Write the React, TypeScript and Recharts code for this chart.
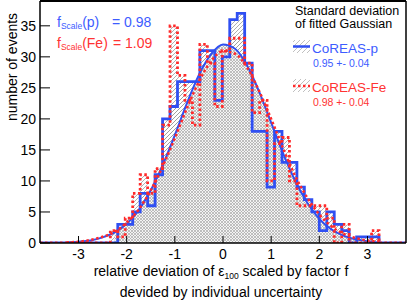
import { ComposedChart, Area, Line, XAxis, YAxis } from 'recharts';

// histogram bin edges (left edges, last one closes the final bin)
const binEdges = [
  -2.34, -2.185, -2.03, -1.875, -1.72, -1.565, -1.41, -1.255, -1.1, -0.945,
  -0.79, -0.635, -0.48, -0.325, -0.17, -0.015, 0.14, 0.295, 0.45, 0.605,
  0.76, 0.915, 1.07, 1.225, 1.38, 1.535, 1.69, 1.845, 2.0, 2.155,
  2.31, 2.465, 2.62, 2.775, 2.93, 3.085, 3.24,
];

const countsP = [
  0, 3, 3, 5, 8, 6, 11, 20, 22, 26,
  26, 26, 31, 31, 23, 30, 36, 37, 29, 18,
  18, 9, 18, 13, 13, 9, 7, 5, 2, 5,
  3, 2, 0, 1, 1, 1,
];

const countsFe = [
  2, 1, 4, 8, 11, 8, 12, 19, 35, 27,
  23, 19, 32, 29, 22, 31, 33, 33, 29, 21,
  23, 10, 16, 17, 10, 6, 6, 6, 6, 4,
  0, 3, 0, 0, 0, 2,
];

// fitted gaussians
const fitX = [
  -3.25, -3, -2.75, -2.5, -2.25, -2, -1.75, -1.5, -1.25, -1, -0.75, -0.5, -0.25,
  0, 0.25, 0.5, 0.75, 1, 1.25, 1.5, 1.75, 2, 2.25, 2.5, 2.75, 3, 3.25,
];
const fitP = [
  0.1, 0.2, 0.4, 0.9, 1.7, 3.1, 5.3, 8.5, 12.6, 17.4, 22.5, 27.1, 30.4,
  32.0, 31.3, 28.6, 24.4, 19.4, 14.4, 10.0, 6.5, 3.9, 2.2, 1.2, 0.6, 0.3, 0.1,
];
const fitFe = [
  0.1, 0.2, 0.5, 1.0, 1.8, 3.3, 5.4, 8.5, 12.4, 16.9, 21.7, 26.0, 29.3,
  30.9, 30.5, 28.3, 24.5, 20.0, 15.2, 10.8, 7.3, 4.6, 2.7, 1.5, 0.8, 0.4, 0.2,
];

const xTicks = [-3, -2, -1, 0, 1, 2, 3];
const yTicks = [0, 5, 10, 15, 20, 25, 30, 35];
const xMinorTicks = Array.from({ length: 45 }, (_, i) => (i - 22) / 6);
const yMinorTicks = Array.from({ length: 40 }, (_, i) => i);

const BLUE = '#2f4ff2';
const RED = '#ff2a2a';
const BLUE_TXT = '#3d5cff';
const RED_TXT = '#ff3333';

type Row = {
  x: number;
  p?: number;
  fe?: number;
  fitP?: number;
  fitFe?: number;
  shade?: number;
};

const rows: Row[] = [{ x: -3.8, p: 0, fe: 0 }, { x: 3.8, p: 0, fe: 0 }];
binEdges.forEach((e, i) => {
  rows.push({ x: e, p: countsP[i] ?? 0, fe: countsFe[i] ?? 0 });
});
fitX.forEach((x, i) => {
  rows.push({
    x,
    fitP: fitP[i],
    fitFe: fitFe[i],
    shade: x >= -2.3 && x <= 3.0 ? fitP[i] : undefined,
  });
});
rows.sort((a, b) => a.x - b.x);

const W = 407;
const H = 301;

export default function App() {
  return (
    <div
      style={{
        position: 'absolute',
        left: 0,
        top: 0,
        width: W,
        height: H,
        background: '#fff',
        fontFamily: '"Liberation Sans", Arial, sans-serif',
      }}
    >
      <ComposedChart
        width={W}
        height={H}
        data={rows}
        margin={{ top: 0, right: 0, bottom: 56, left: 38 }}
      >
        <defs>
          <pattern id="hatch" patternUnits="userSpaceOnUse" width="4" height="4">
            <path d="M-1,1 L1,-1 M0,4 L4,0 M3,5 L5,3" stroke="#9a9a9a" strokeWidth="0.8" />
          </pattern>
          <pattern id="checker" patternUnits="userSpaceOnUse" width="3" height="3">
            <rect x="0" y="0" width="3" height="3" fill="#f4f4f4" />
            <path d="M0,0 L3,3 M3,0 L0,3" stroke="#a8a8a8" strokeWidth="0.7" />
          </pattern>
        </defs>

        <XAxis
          xAxisId="main"
          dataKey="x"
          type="number"
          domain={[-3.8, 3.8]}
          allowDataOverflow
          ticks={xTicks}
          interval={0}
          height={1}
          tickSize={-7}
          tickMargin={13}
          axisLine={{ stroke: '#000', strokeWidth: 1.5 }}
          tickLine={{ stroke: '#000', strokeWidth: 1 }}
          tick={{ fill: '#000', fontSize: 14 }}
        />
        <XAxis
          xAxisId="minor"
          dataKey="x"
          type="number"
          domain={[-3.8, 3.8]}
          allowDataOverflow
          ticks={xMinorTicks}
          interval={0}
          height={1}
          tickSize={-4.5}
          axisLine={false}
          tickLine={{ stroke: '#000', strokeWidth: 1 }}
          tick={false}
        />
        <XAxis
          xAxisId="top"
          orientation="top"
          dataKey="x"
          type="number"
          domain={[-3.8, 3.8]}
          allowDataOverflow
          height={1}
          axisLine={{ stroke: '#000', strokeWidth: 2 }}
          tickLine={false}
          tick={false}
        />
        <YAxis
          yAxisId="main"
          type="number"
          domain={[0, 39]}
          allowDataOverflow
          ticks={yTicks}
          interval={0}
          width={1}
          tickSize={-10}
          tickMargin={14}
          axisLine={{ stroke: '#000', strokeWidth: 1.5 }}
          tickLine={{ stroke: '#000', strokeWidth: 1 }}
          tick={{ fill: '#000', fontSize: 14 }}
        />
        <YAxis
          yAxisId="minor"
          type="number"
          domain={[0, 39]}
          allowDataOverflow
          ticks={yMinorTicks}
          interval={0}
          width={1}
          tickSize={-6}
          axisLine={false}
          tickLine={{ stroke: '#000', strokeWidth: 1 }}
          tick={false}
        />
        <YAxis
          yAxisId="right"
          orientation="right"
          type="number"
          domain={[0, 39]}
          allowDataOverflow
          width={1}
          axisLine={{ stroke: '#000', strokeWidth: 1.5 }}
          tickLine={false}
          tick={false}
        />

        {/* hatched histogram fills */}
        <Area xAxisId="main" yAxisId="main" dataKey="p" type="stepAfter" connectNulls
          stroke="none" fill="url(#hatch)" fillOpacity={1} isAnimationActive={false} />
        <Area xAxisId="main" yAxisId="main" dataKey="fe" type="stepAfter" connectNulls
          stroke="none" fill="url(#hatch)" fillOpacity={1} isAnimationActive={false} />
        {/* cross-hatched area under the fit */}
        <Area xAxisId="main" yAxisId="main" dataKey="shade" type="monotone" connectNulls
          stroke="none" fill="url(#checker)" fillOpacity={1} isAnimationActive={false} />

        <Line xAxisId="main" yAxisId="main" dataKey="p" type="stepAfter" connectNulls
          stroke={BLUE} strokeWidth={2.8} dot={false} activeDot={false} isAnimationActive={false} />
        <Line xAxisId="main" yAxisId="main" dataKey="fitP" type="monotone" connectNulls
          stroke={BLUE} strokeWidth={2} dot={false} activeDot={false} isAnimationActive={false} />
        <Line xAxisId="main" yAxisId="main" dataKey="fe" type="stepAfter" connectNulls
          stroke={RED} strokeWidth={2.8} strokeDasharray="2.5 2.5" dot={false} activeDot={false}
          isAnimationActive={false} />
        <Line xAxisId="main" yAxisId="main" dataKey="fitFe" type="monotone" connectNulls
          stroke={RED} strokeWidth={2.5} strokeDasharray="2.5 2.5" dot={false} activeDot={false}
          isAnimationActive={false} />
      </ComposedChart>

      {/* texts and legend */}
      <svg
        width={W}
        height={H}
        style={{ position: 'absolute', left: 0, top: 0, pointerEvents: 'none' }}
      >
        <defs>
          <pattern id="hatchLeg" patternUnits="userSpaceOnUse" width="5" height="5">
            <path d="M-1,1 L1,-1 M0,5 L5,0 M4,6 L6,4" stroke="#b0b0b0" strokeWidth="0.8" />
          </pattern>
        </defs>

        <text transform="translate(17,67) rotate(-90)" textAnchor="middle" fontSize={14} fill="#000">
          number of events
        </text>
        <text x={221} y={276} textAnchor="middle" fontSize={14} fill="#000">
          relative deviation of ε<tspan fontSize={8.5} dy={3}>100</tspan>
          <tspan dy={-3}> scaled by factor f</tspan>
        </text>
        <text x={221} y={297} textAnchor="middle" fontSize={14} fill="#000">
          devided by individual uncertainty
        </text>

        <text x={57} y={26.5} fontSize={14} fill={BLUE_TXT}>
          f<tspan fontSize={8.5} dy={2}>Scale</tspan>
          <tspan dy={-2}>(p)</tspan>
        </text>
        <text x={112} y={26.5} fontSize={14} fill={BLUE_TXT}>= 0.98</text>
        <text x={57} y={48} fontSize={14} fill={RED_TXT}>
          f<tspan fontSize={8.5} dy={2}>Scale</tspan>
          <tspan dy={-2}>(Fe)</tspan>
        </text>
        <text x={113} y={48} fontSize={14} fill={RED_TXT}>= 1.09</text>

        <text x={295} y={15} fontSize={12.5} fill="#000">Standard deviation</text>
        <text x={295} y={27.5} fontSize={12.5} fill="#000">of fitted Gaussian</text>

        <rect x={293} y={40} width={17} height={13} fill="url(#hatchLeg)" />
        <line x1={293} x2={310} y1={46.5} y2={46.5} stroke={BLUE} strokeWidth={2.5} />
        <text x={312} y={53} fontSize={13.5} fill={BLUE_TXT}>CoREAS-p</text>
        <text x={313} y={66.5} fontSize={10.5} fill={BLUE_TXT}>0.95 +- 0.04</text>

        <rect x={293} y={79} width={17} height={13} fill="url(#hatchLeg)" />
        <line x1={293} x2={310} y1={86} y2={86} stroke={RED} strokeWidth={2.5} strokeDasharray="2.5 2.5" />
        <text x={312} y={92} fontSize={13.5} fill={RED_TXT}>CoREAS-Fe</text>
        <text x={313} y={106} fontSize={10.5} fill={RED_TXT}>0.98 +- 0.04</text>
      </svg>
    </div>
  );
}
